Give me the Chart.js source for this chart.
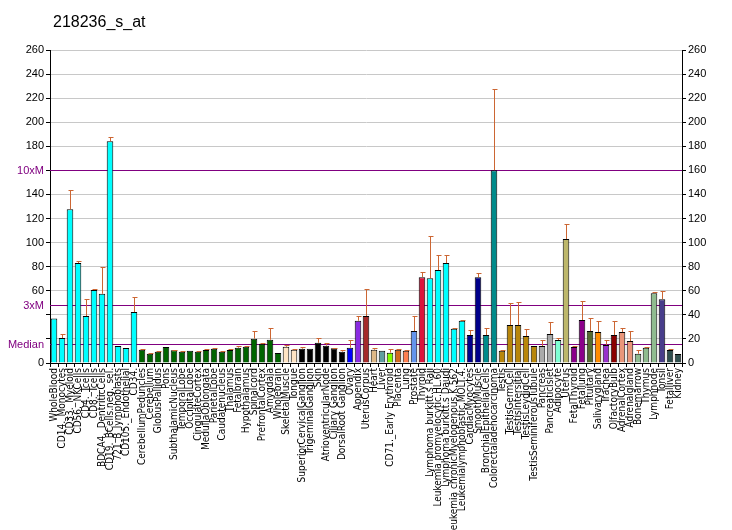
<!DOCTYPE html>
<html>
<head>
<meta charset="utf-8">
<script src="https://cdn.jsdelivr.net/npm/chart.js@4"></script>
<style>
  body { margin: 0; background: #fff; }
</style>
</head>
<body>
<canvas id="myChart" width="732" height="530"></canvas>
<script>
// tissue names, in the order they appear on the x axis
const labels = [
  'WholeBlood', 'CD14._Monocytes', 'CD33._Myeloid', 'CD56._NKCells', 'CD4._Tcells', 'CD8._Tcells',
  'BDCA4._DentriticCells', 'CD19._BCells.neg._sel.', '721_B_lymphoblasts', 'CD105._Endothelial', 'CD34.',
  'CerebellumPeduncles', 'Cerebellum', 'GlobusPallidus', 'Pons', 'SubthalamicNucleus', 'TemporalLobe',
  'OccipitalLobe', 'CingulateCortex', 'MedullaOblongata', 'ParietalLobe', 'Caudatenucleus', 'Thalamus',
  'Fetalbrain', 'Hypothalamus', 'Spinalcord', 'PrefrontalCortex', 'Amygdala', 'Wholebrain',
  'SkeletalMuscle', 'Tongue', 'SuperiorCervicalGanglion', 'TrigeminalGanglion', 'Skin',
  'AtrioventricularNode', 'Ciliary Ganglion', 'DorsalRoot Ganglion', 'Ovary', 'Appendix', 'UterusCorpus',
  'Heart', 'Liver', 'CD71._Early Erythroid', 'Placenta', 'Lung', 'Prostate', 'Thyroid',
  'Lymphoma burkitt.s Raji', 'Leukemia promyelocytic.HL.60', 'Lymphoma burkitt.s Daudi',
  'Leukemia chronicMyelogenous.K.562', 'Leukemialymphoblastic.MOLT.4.', 'CardiacMyocytes', 'SmoothMuscle',
  'BronchialEpithelialCells', 'Colorectaladenocarcinoma', 'Testis', 'TestisGermCell', 'TestisIntersitial',
  'TestisLeydigCell', 'TestisSeminiferousTubule', 'Pancreas', 'PancreaticIslet', 'Adipocyte', 'Uterus',
  'FetalThyroid', 'Fetallung', 'Pituitary', 'Salivarygland', 'Trachea', 'OlfactoryBulb', 'AdrenalCortex',
  'Adrenalgland', 'Bonemarrow', 'Thymus', 'Lymphnode', 'Tonsil', 'Fetalliver', 'Kidney'
];

// bar heights
const values = [
  37, 20.7, 127.8, 83, 39, 60.6, 57.5, 184.2, 14.1, 12.4, 42.3,
  11, 7.7, 9.4, 13.3, 10.5, 9.4, 10.2, 9.4, 10.8, 11.9, 9.4, 10.8, 12.7, 13.5, 20.2, 16, 19.3, 8.3,
  13.5, 11, 11.9, 11.9, 16.8, 14.4, 12.2, 9.4, 12.7, 35.1, 39,
  11, 10.2, 8.6, 11, 10.2, 26.5, 71.3,
  70.5, 77.2, 83, 28.5, 35.1, 23.2, 71.3, 23.2, 160.2,
  10.2, 31.5, 31.5, 22.4, 14.1, 14.1, 24, 19.1, 103,
  13.3, 35.7, 26.5, 25.7, 14.9, 23.2, 25.7, 18.2, 7.7, 12.7, 58, 53, 10.8, 7.4
];

// top of each error bar
const errTop = [
  37, 24, 143.6, 84.7, 53, 61.4, 80, 187.5, 14.1, 12.4, 54.8,
  11.6, 8.3, 10.2, 13.3, 11, 9.9, 10.2, 10.2, 12, 12.4, 10.2, 11.6, 14.1, 14.1, 26.8, 16.6, 29, 8.3,
  15.2, 11.9, 13.3, 11.9, 20.7, 16.6, 12.7, 11, 19.3, 39, 61.4,
  12.2, 10.2, 11.6, 11.6, 11, 39, 75.5,
  105.4, 89.6, 89.6, 29, 35.7, 27.4, 74.7, 29, 227.4,
  11, 49.8, 50.6, 28.2, 14.1, 19.1, 34, 20.7, 115.4,
  14.1, 51.4, 37.3, 34.9, 19.1, 34.9, 29, 26.5, 10.5, 13.2, 59, 59.7, 11.6, 7.4
];

const colors = [
  '#00ffff', '#00ffff', '#00ffff', '#00ffff', '#00ffff', '#00ffff', '#00ffff', '#00ffff', '#00ffff', '#00ffff', '#00ffff',
  '#006400', '#006400', '#006400', '#006400', '#006400', '#006400', '#006400', '#006400', '#006400',
  '#006400', '#006400', '#006400', '#006400', '#006400', '#006400', '#006400', '#006400', '#006400',
  '#ffe4c4', '#ffe4c4', '#000000', '#000000', '#000000', '#000000', '#000000', '#000000',
  '#0000ff', '#8a2be2', '#a52a2a', '#deb887', '#5f9ea0', '#7fff00', '#d2691e', '#ff7f50', '#6495ed', '#dc143c',
  '#00ffff', '#00ffff', '#00ffff', '#00ffff', '#00ffff', '#00008b', '#00008b', '#008b8b', '#008b8b',
  '#b8860b', '#b8860b', '#b8860b', '#b8860b', '#b8860b', '#a9a9a9', '#a9a9a9', '#7fffd4', '#bdb76b',
  '#8b008b', '#8b008b', '#556b2f', '#ff8c00', '#9932cc', '#8b0000', '#e9967a', '#e9967a',
  '#8fbc8f', '#8fbc8f', '#8fbc8f', '#483d8b', '#2f4f4f', '#2f4f4f'
];

// reference lines
const refLines = [
  { value: 160, text: '10xM' },
  { value: 48, text: '3xM' },
  { value: 16, text: 'Median' }
];
const hiddenLeft = [160, 40, 20];

const overlay = {
  id: 'overlay',
  beforeDatasetsDraw(chart) {
    const ctx = chart.ctx;
    const area = chart.chartArea;
    const y = chart.scales.y;
    ctx.save();
    ctx.strokeStyle = '#800080';
    ctx.lineWidth = 1;
    ctx.fillStyle = '#800080';
    ctx.font = '11px "Liberation Sans", Arial, sans-serif';
    ctx.textAlign = 'right';
    ctx.textBaseline = 'middle';
    refLines.forEach(r => {
      const py = Math.round(y.getPixelForValue(r.value)) + 0.5;
      ctx.beginPath();
      ctx.moveTo(area.left, py);
      ctx.lineTo(area.right, py);
      ctx.stroke();
      ctx.fillText(r.text, area.left - 6, py);
    });
    ctx.restore();
  },
  afterDatasetsDraw(chart) {
    const ctx = chart.ctx;
    const y = chart.scales.y;
    const meta = chart.getDatasetMeta(0);
    ctx.save();
    ctx.strokeStyle = '#cc6633';
    ctx.lineWidth = 1;
    meta.data.forEach((bar, i) => {
      if (errTop[i] <= values[i]) return;
      const px = Math.round(bar.x) + 0.5;
      const y0 = y.getPixelForValue(values[i]);
      const y1 = Math.round(y.getPixelForValue(errTop[i])) + 0.5;
      ctx.beginPath();
      ctx.moveTo(px, y0);
      ctx.lineTo(px, y1);
      ctx.moveTo(px - 2, y1);
      ctx.lineTo(px + 3, y1);
      ctx.stroke();
    });
    // title
    ctx.fillStyle = '#000';
    ctx.font = '16px "Liberation Sans", Arial, sans-serif';
    ctx.textAlign = 'left';
    ctx.textBaseline = 'alphabetic';
    ctx.fillText('218236_s_at', 53, 27);
    ctx.restore();
  }
};

const tickFont = { family: '"Liberation Sans", Arial, sans-serif', size: 11 };

const config = {
  type: 'bar',
  data: {
    labels: labels,
    datasets: [{
      data: values,
      backgroundColor: colors,
      borderColor: '#000',
      borderWidth: 1,
      barPercentage: 0.82,
      categoryPercentage: 1
    }]
  },
  options: {
    responsive: false,
    animation: false,
    layout: { padding: { top: 50, left: 0, right: 0, bottom: 0 } },
    plugins: { legend: { display: false }, tooltip: { enabled: false } },
    scales: {
      x: {
        grid: { drawOnChartArea: false, color: '#000', tickLength: 4 },
        border: { color: '#000' },
        ticks: {
          autoSkip: false, minRotation: 90, maxRotation: 90, padding: 1, color: '#000',
          font: { family: '"Liberation Sans Narrow", "DejaVu Sans Condensed", Arial, sans-serif', size: 10 }
        },
        afterFit(s) { s.height = 167; }
      },
      y: {
        position: 'left', min: 0, max: 260,
        ticks: {
          stepSize: 20, color: '#000', font: tickFont, padding: 2,
          callback: v => hiddenLeft.includes(v) ? '' : v
        },
        grid: { color: '#c8c8c8', tickColor: '#000', tickLength: 4 },
        border: { color: '#000' },
        afterFit(s) { s.width = 50; }
      },
      y2: {
        position: 'right', min: 0, max: 260,
        ticks: { stepSize: 20, color: '#000', font: tickFont, padding: 2 },
        grid: { drawOnChartArea: false, tickColor: '#000', tickLength: 4 },
        border: { color: '#000' },
        afterFit(s) { s.width = 50; }
      }
    }
  },
  plugins: [overlay]
};

const myChart = new Chart(document.getElementById('myChart').getContext('2d'), config);
</script>
</body>
</html>
